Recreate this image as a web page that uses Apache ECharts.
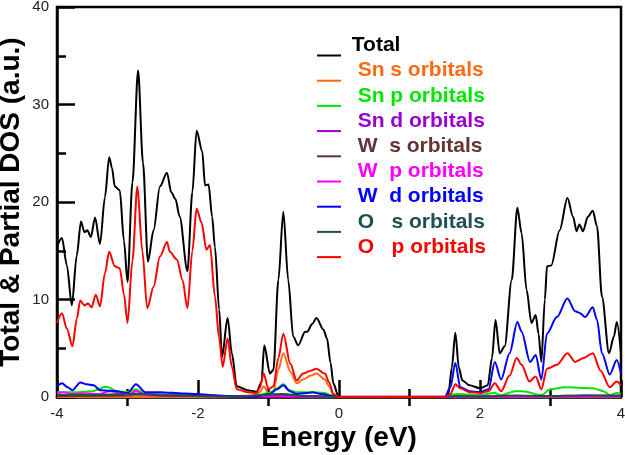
<!DOCTYPE html>
<html>
<head>
<meta charset="utf-8">
<script src="https://cdn.jsdelivr.net/npm/echarts@6/dist/echarts.min.js"></script>
<style>
  html, body { margin: 0; padding: 0; background: #fff; }
  #main { width: 625px; height: 455px; }
</style>
</head>
<body>
<div id="main"></div>
<script>
// energy ticks (eV)
const xTicks = [-4, -2, 0, 2, 4];
const xMinorTicks = [-3, -1, 1, 3];

// [energy, DOS] pairs
const total = [
  [-4.00, 15.4], [-3.93, 16.3], [-3.86, 13.5], [-3.79, 9.4], [-3.72, 14.5], [-3.66, 18.0],
  [-3.61, 16.9], [-3.57, 17.1], [-3.52, 16.4], [-3.46, 18.4], [-3.39, 15.7], [-3.32, 20.5],
  [-3.26, 24.6], [-3.22, 23.5], [-3.18, 21.6], [-3.11, 21.2], [-3.05, 16.0], [-3.00, 11.8],
  [-2.93, 22.0], [-2.85, 33.5], [-2.78, 24.0], [-2.71, 13.9], [-2.63, 17.1], [-2.54, 21.6],
  [-2.44, 23.0], [-2.38, 21.0], [-2.32, 20.3], [-2.26, 18.5], [-2.15, 12.9], [-2.08, 21.0],
  [-2.02, 27.3], [-1.94, 25.2], [-1.90, 21.7], [-1.85, 21.8], [-1.80, 18.5], [-1.76, 15.4],
  [-1.70, 9.0], [-1.66, 4.1], [-1.58, 8.1], [-1.52, 4.5], [-1.45, 1.1], [-1.30, 0.7],
  [-1.17, 0.55], [-1.10, 1.5], [-1.06, 5.3], [-0.98, 2.4], [-0.93, 2.8], [-0.86, 12.0],
  [-0.79, 19.0], [-0.72, 12.0], [-0.65, 6.2], [-0.58, 5.3], [-0.48, 6.7], [-0.45, 6.7],
  [-0.38, 7.5], [-0.32, 8.1], [-0.22, 6.9], [-0.17, 6.0], [-0.12, 3.5], [-0.08, 1.4],
  [-0.01, 0.1], [0.00, 0], [1.50, 0], [1.55, 0.2], [1.60, 3.0], [1.65, 6.6], [1.70, 3.0],
  [1.75, 1.7], [1.85, 1.2], [2.00, 0.9], [2.11, 1.2], [2.17, 4.0], [2.22, 7.9], [2.28, 4.5],
  [2.35, 5.2], [2.45, 12.0], [2.53, 19.4], [2.59, 16.8], [2.66, 11.0], [2.73, 7.6],
  [2.79, 8.4], [2.83, 6.5], [2.87, 3.6], [2.92, 10.0], [2.95, 13.4], [3.01, 13.5],
  [3.13, 17.1], [3.24, 20.4], [3.32, 18.5], [3.37, 17.0], [3.41, 17.7], [3.46, 17.0],
  [3.53, 18.5], [3.60, 19.1], [3.66, 17.5], [3.73, 10.3], [3.83, 4.5], [3.90, 6.2],
  [3.94, 7.7], [4.00, 4.5]
];
const snS = [
  [-4.00, 0], [-1.60, 0], [-1.50, 0.1], [-1.20, 0.15], [-1.12, 0.5], [-1.07, 1.1],
  [-1.00, 0.4], [-0.93, 0.6], [-0.86, 2.8], [-0.79, 4.5], [-0.69, 2.6], [-0.60, 1.4],
  [-0.51, 1.8], [-0.40, 2.2], [-0.32, 2.4], [-0.20, 1.8], [-0.14, 1.1], [-0.08, 0.2],
  [0.00, 0], [4.00, 0]
];
const snP = [
  [-4.00, 0.5], [-3.70, 0.5], [-3.50, 0.6], [-3.30, 1.06], [-3.15, 0.6], [-3.00, 0.5],
  [-2.88, 0.8], [-2.75, 0.3], [-2.40, 0.25], [-2.00, 0.2], [-1.60, 0.1], [-1.20, 0.1],
  [-1.00, 0.4], [-0.88, 0.9], [-0.79, 1.3], [-0.70, 0.7], [-0.60, 0.5], [-0.40, 0.5],
  [-0.20, 0.4], [-0.08, 0.1], [0.00, 0], [1.50, 0], [1.65, 0.3], [2.00, 0.2], [2.20, 0.4],
  [2.30, 0.2], [2.50, 0.6], [2.60, 0.6], [2.87, 0.2], [3.00, 0.8], [3.20, 1.0], [3.60, 0.9],
  [3.75, 0.6], [3.84, 0.2], [3.94, 0.4], [4.00, 0.3]
];
const snD = [
  [-4.00, 0.15], [-3.00, 0.2], [-2.90, 0.3], [-2.00, 0.1], [-1.50, 0.05], [-0.80, 0.15],
  [0.00, 0], [1.50, 0], [2.00, 0.05], [3.00, 0.1], [3.50, 0.15], [4.00, 0.15]
];
const wS = [
  [-4.00, 0.1], [-3.00, 0.15], [-2.90, 0.25], [-2.00, 0.1], [-1.00, 0.05], [-0.80, 0.1],
  [0.00, 0], [1.50, 0], [2.50, 0.05], [4.00, 0.05]
];
const wP = [
  [-4.00, 0.4], [-3.90, 0.5], [-3.80, 0.3], [-3.60, 0.35], [-3.40, 0.3], [-3.25, 0.6],
  [-3.10, 0.4], [-2.98, 0.2], [-2.88, 0.65], [-2.75, 0.2], [-2.50, 0.15], [-2.00, 0.1],
  [-1.00, 0.05], [0.00, 0], [4.00, 0.05]
];
const wD = [
  [-4.00, 1.06], [-3.93, 1.4], [-3.85, 1.0], [-3.78, 0.7], [-3.67, 1.5], [-3.58, 1.3],
  [-3.48, 1.2], [-3.39, 0.7], [-3.15, 0.6], [-3.00, 0.4], [-2.88, 1.3], [-2.75, 0.5],
  [-2.54, 0.5], [-2.20, 0.35], [-2.02, 0.3], [-1.83, 0.2], [-1.60, 0.1], [-1.20, 0.05],
  [-0.98, 0.3], [-0.88, 0.8], [-0.79, 1.2], [-0.70, 0.6], [-0.60, 0.3], [-0.45, 0.4],
  [-0.38, 0.5], [-0.25, 0.3], [-0.10, 0.1], [0.00, 0], [1.50, 0], [1.58, 1.0], [1.65, 3.5],
  [1.72, 1.0], [1.85, 0.6], [2.00, 0.5], [2.12, 0.8], [2.21, 3.6], [2.30, 1.8], [2.42, 4.5],
  [2.53, 7.7], [2.59, 6.7], [2.71, 3.6], [2.79, 4.3], [2.87, 1.8], [2.95, 6.5], [3.09, 8.2],
  [3.24, 10.1], [3.35, 8.8], [3.42, 8.6], [3.49, 8.2], [3.60, 9.2], [3.66, 7.9], [3.73, 4.5],
  [3.84, 2.3], [3.94, 3.8], [4.00, 2.4]
];
const oS = [
  [-4.00, 0.2], [-3.50, 0.2], [-3.00, 0.3], [-2.90, 0.35], [-2.50, 0.15], [-2.00, 0.1],
  [-1.50, 0.05], [-0.80, 0.3], [-0.50, 0.1], [0.00, 0], [1.50, 0], [1.65, 0.1], [2.00, 0.05],
  [2.50, 0.15], [3.00, 0.1], [3.50, 0.15], [4.00, 0.1]
];
const oP = [
  [-4.00, 7.6], [-3.93, 8.6], [-3.86, 7.0], [-3.78, 5.2], [-3.72, 8.0], [-3.67, 9.9],
  [-3.61, 9.4], [-3.56, 9.6], [-3.51, 9.2], [-3.45, 10.5], [-3.39, 9.3], [-3.32, 12.7],
  [-3.26, 14.9], [-3.18, 13.4], [-3.11, 13.2], [-3.05, 10.5], [-3.00, 7.6], [-2.93, 14.0],
  [-2.86, 21.6], [-2.79, 15.0], [-2.72, 9.1], [-2.63, 11.3], [-2.54, 14.4], [-2.44, 15.9],
  [-2.40, 14.9], [-2.30, 14.1], [-2.22, 12.0], [-2.15, 9.1], [-2.08, 15.0], [-2.02, 19.3],
  [-1.95, 17.9], [-1.88, 15.1], [-1.83, 15.6], [-1.76, 10.3], [-1.70, 6.0], [-1.65, 3.1],
  [-1.58, 6.0], [-1.52, 3.1], [-1.45, 0.8], [-1.30, 0.5], [-1.17, 0.4], [-1.12, 1.0],
  [-1.07, 2.4], [-1.00, 0.8], [-0.93, 1.1], [-0.86, 4.0], [-0.79, 6.5], [-0.69, 3.4],
  [-0.60, 1.7], [-0.51, 2.4], [-0.40, 2.7], [-0.32, 2.9], [-0.20, 2.4], [-0.14, 1.5],
  [-0.08, 0.3], [0.00, 0], [1.50, 0], [1.58, 0.3], [1.65, 1.3], [1.72, 0.9], [1.85, 0.5],
  [2.00, 0.4], [2.12, 0.6], [2.21, 1.4], [2.30, 0.6], [2.42, 2.2], [2.52, 4.0], [2.59, 3.3],
  [2.70, 1.6], [2.79, 2.1], [2.87, 0.8], [2.95, 2.9], [3.09, 3.3], [3.24, 4.5], [3.35, 3.6],
  [3.47, 4.0], [3.60, 4.5], [3.71, 2.7], [3.84, 1.0], [3.94, 1.6], [4.00, 1.2]
];

const names = ['Total', 'Sn s orbitals', 'Sn p orbitals', 'Sn d orbitals', 'W  s orbitals',
  'W  p orbitals', 'W  d orbitals', 'O   s orbitals', 'O   p orbitals'];
const colors = ['#000000', '#ff6a13', '#00e600', '#9900cc', '#663333',
  '#ff00ff', '#0000ff', '#1f4f4f', '#ff0000'];
const seriesData = [total, snS, snP, snD, wS, wP, wD, oS, oP];

const font = '"Liberation Sans", Arial, sans-serif';
let myChart = echarts.init(document.getElementById('main'));

let option = {
  animation: false,
  backgroundColor: '#fff',
  grid: {
    left: 57, right: 4, top: 7, bottom: 58,
    outerBoundsMode: 'none',
    show: true, borderColor: '#000', borderWidth: 2.5
  },
  legend: {
    orient: 'vertical',
    left: 317, top: 35,
    padding: 0,
    itemGap: -15.8,
    itemWidth: 24, itemHeight: 2,
    icon: 'rect',
    // second blank line lifts the label above the legend line, like the original
    formatter: n => (n === 'Total' ? ' ' : '  ') + n + '\n ',
    textStyle: {
      fontFamily: font, fontSize: 21, fontWeight: 'bold', lineHeight: 20
    },
    data: names.map((n, i) => ({ name: n, textStyle: { color: colors[i] } }))
  },
  xAxis: [{
    type: 'value', min: -4, max: 4, interval: 2,
    name: 'Energy (eV)', nameLocation: 'middle', nameGap: 27, nameMoveOverlap: false,
    nameTextStyle: { fontFamily: font, fontSize: 28, fontWeight: 'bold', color: '#000' },
    axisLine: { onZero: false, lineStyle: { color: '#000', width: 2.5 } },
    axisTick: { inside: true, length: 17, lineStyle: { width: 2.5, color: '#000' } },
    axisLabel: { margin: 9, fontFamily: font, fontSize: 15, color: '#222' },
    splitLine: { show: false }
  }, {
    // short ticks at the odd energies, crossing the axis line
    type: 'value', min: -4, max: 4, position: 'bottom', offset: -8,
    axisLine: { show: false, onZero: false },
    axisTick: { show: true, length: 17, customValues: xMinorTicks, lineStyle: { width: 2.5, color: '#000' } },
    axisLabel: { show: false },
    splitLine: { show: false }
  }],
  yAxis: {
    type: 'value', min: 0, max: 40, interval: 10,
    name: 'Total & Partial DOS (a.u.)', nameLocation: 'middle', nameGap: 32, nameMoveOverlap: false,
    nameTextStyle: { fontFamily: font, fontSize: 28, fontWeight: 'bold', color: '#000' },
    axisLine: { show: true, onZero: false, lineStyle: { color: '#000', width: 2.5 } },
    axisTick: { inside: true, length: 18, lineStyle: { width: 2.5, color: '#000' } },
    minorTick: { show: true, splitNumber: 2, length: 9, lineStyle: { width: 2.5, color: '#000' } },
    axisLabel: { margin: 8, fontFamily: font, fontSize: 15, color: '#222' },
    splitLine: { show: false }
  },
  series: names.map((n, i) => ({
    name: n,
    type: 'line',
    data: seriesData[i],
    showSymbol: false,
    smooth: 0.3,
    smoothMonotone: 'x',
    color: colors[i],
    lineStyle: { width: 2, color: colors[i] }
  }))
};
myChart.setOption(option);
</script>
</body>
</html>
